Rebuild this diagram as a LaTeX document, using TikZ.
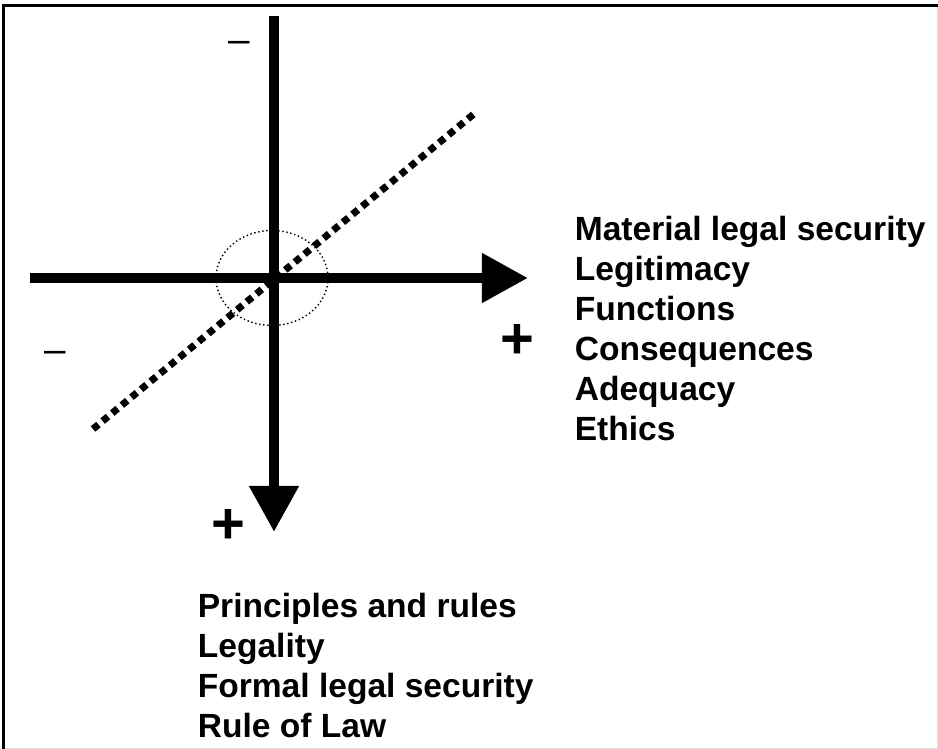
\documentclass[tikz,border=0pt]{standalone}
\usepackage{fontspec}
\setmainfont{Liberation Sans}
\usetikzlibrary{arrows.meta,positioning}

\tikzset{
  axisline/.style={line width=6pt, -{Triangle[length=26.2pt,width=26.8pt]}},
  lbl/.style={font=\fontsize{19.1}{22.8}\selectfont\bfseries, anchor=base west, inner sep=0pt},
  plussign/.style={font=\fontsize{33}{36}\selectfont\bfseries, anchor=base, inner sep=0pt},
  minussign/.style={font=\fontsize{22}{24}\selectfont, anchor=base, inner sep=0pt},
}

\begin{document}
\begin{tikzpicture}[x=0.02cm, y=-0.02cm]
    \useasboundingbox (0,0) rectangle (938,749);

    % frame
    \draw[gray!25, line width=0.6pt] (937.5,5.5) -- (937.5,748.5) -- (3.5,748.5);
    \draw[line width=1.5pt] (3.5,749) -- (3.5,5.5) -- (938,5.5);

    \coordinate (o) at (274,278);
    \coordinate (ytop) at (274,16);
    \coordinate (ybot) at (274,532);
    \coordinate (xleft) at (30,278);
    \coordinate (xright) at (528,278);
    \coordinate (dlow) at (93,429);
    \coordinate (dhigh) at (475,113);

    % diagonal
    \draw[line width=4pt, dash pattern=on 4pt off 3.1pt] (dlow) -- (dhigh);

    % axes
    \draw[axisline] (xleft) -- (xright);
    \draw[axisline] (ytop) -- (ybot);
    \draw[line width=0.8pt, dash pattern=on 0.8pt off 1.5pt] (272,278) ellipse [x radius=56, y radius=47.5];

    % signs
    \node[minussign] (mtop) at (239.5,53) {–};
    \node[minussign] (mleft) at (55,363) {–};
    \node[plussign] (pright) at (517,359) {+};
    \node[plussign] (pbot) at (228,544) {+};

    % material side
    \foreach \txt [count=\i from 0] in {Material legal security, Legitimacy, Functions, Consequences, Adequacy, Ethics}
        \node[lbl] (m\i) at (574.5, 241+40*\i) {\txt};

    % formal side
    \foreach \txt [count=\i from 0] in {Principles and rules, Legality, Formal legal security, Rule of Law}
        \node[lbl] (f\i) at (197.5, 618+39.7*\i) {\txt};
\end{tikzpicture}
\end{document}
